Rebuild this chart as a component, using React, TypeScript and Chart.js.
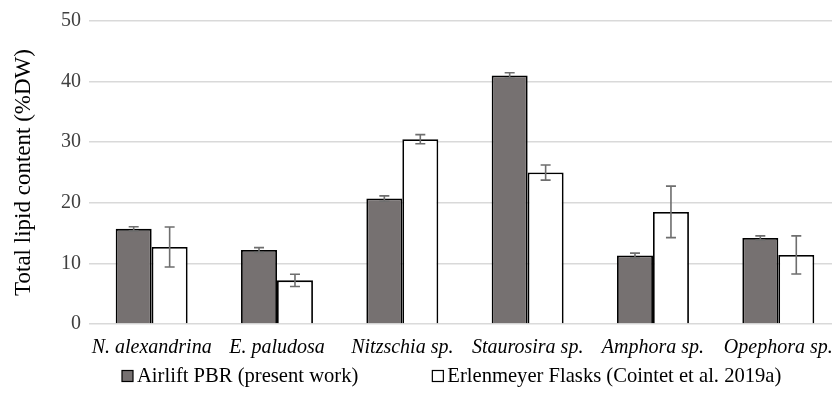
import React, { useEffect, useRef } from "react";
import { Chart, registerables } from "chart.js";

Chart.register(...registerables);

const categories = ["N. alexandrina", "E. paludosa", "Nitzschia sp.", "Staurosira sp.", "Amphora sp.", "Opephora sp."];
const airliftValues = [15.7, 12.2, 20.7, 41.0, 11.3, 14.2];
const airliftErrors = [0.35, 0.4, 0.45, 0.45, 0.4, 0.35];
const flaskValues = [12.7, 7.2, 30.5, 25.0, 18.5, 11.4];
const flaskErrors = [3.3, 1.0, 0.75, 1.25, 4.25, 3.15];
const seriesNames = ["Airlift PBR (present work)", "Erlenmeyer Flasks (Cointet et al. 2019a)"];
const yTicks = [0, 10, 20, 30, 40, 50];

const FONT = "'Liberation Serif', 'Times New Roman', serif";

const errorBarPlugin = {
  id: "errorBars",
  afterDatasetsDraw(chart: any) {
    const ctx = chart.ctx;
    const yScale = chart.scales.y;
    const errs = [airliftErrors, flaskErrors];
    chart.data.datasets.forEach((ds: any, di: number) => {
      const meta = chart.getDatasetMeta(di);
      meta.data.forEach((bar: any, i: number) => {
        const v = ds.data[i];
        const e = errs[di][i];
        const yt = yScale.getPixelForValue(v + e);
        const yb = yScale.getPixelForValue(v - e);
        const x = bar.x;
        ctx.save();
        ctx.strokeStyle = "#6e6e6e";
        ctx.lineWidth = 1.6;
        ctx.beginPath();
        ctx.moveTo(x, yt);
        ctx.lineTo(x, yb);
        ctx.moveTo(x - 5, yt);
        ctx.lineTo(x + 5, yt);
        ctx.moveTo(x - 5, yb);
        ctx.lineTo(x + 5, yb);
        ctx.stroke();
        ctx.restore();
      });
    });
  },
};

const customLegendPlugin = {
  id: "customLegend",
  afterDraw(chart: any) {
    const ctx = chart.ctx;
    const y = 376;
    const box = 11;
    let x = 122;
    ctx.save();
    ctx.font = `20.6px ${FONT}`;
    ctx.textBaseline = "middle";
    ctx.textAlign = "left";
    chart.data.datasets.forEach((ds: any) => {
      ctx.fillStyle = ds.backgroundColor;
      ctx.fillRect(x, y - box / 2, box, box);
      ctx.strokeStyle = "#000000";
      ctx.lineWidth = 1.2;
      ctx.strokeRect(x, y - box / 2, box, box);
      ctx.fillStyle = "#000000";
      const tx = x + box + 4;
      ctx.fillText(ds.label, tx, y + 1);
      x = tx + ctx.measureText(ds.label).width + 74;
    });
    ctx.restore();
  },
};

export default function App() {
  const ref = useRef<HTMLCanvasElement>(null);
  useEffect(() => {
    document.body.style.margin = "0";
    document.body.style.overflow = "hidden";
    const chart = new Chart(ref.current!, {
      type: "bar",
      data: {
        labels: categories,
        datasets: [
          {
            label: seriesNames[0],
            data: airliftValues,
            backgroundColor: "#767171",
            borderColor: "#000000",
            borderWidth: 1.8,
            categoryPercentage: 0.574,
            barPercentage: 1.0,
          },
          {
            label: seriesNames[1],
            data: flaskValues,
            backgroundColor: "#ffffff",
            borderColor: "#000000",
            borderWidth: 1.8,
            categoryPercentage: 0.574,
            barPercentage: 1.0,
          },
        ],
      },
      options: {
        animation: false,
        responsive: false,
        layout: { padding: { top: 21, right: 3, left: 0, bottom: 40 } },
        plugins: {
          legend: { display: false },
          tooltip: { enabled: false },
        },
        scales: {
          x: {
            grid: { display: false, drawTicks: false },
            border: { display: false },
            afterFit: (axis: any) => {
              axis.height = 38;
            },
            ticks: {
              color: "#000000",
              font: { family: FONT, size: 20, style: "italic" },
              maxRotation: 0,
              autoSkip: false,
              padding: 12,
            },
          },
          y: {
            min: 0,
            max: 50,
            afterBuildTicks: (axis: any) => {
              axis.ticks = yTicks.map((v) => ({ value: v }));
            },
            afterFit: (axis: any) => {
              axis.width = 89;
            },
            grid: { color: "#d9d9d9", lineWidth: 1.5, drawTicks: false },
            border: { display: false },
            ticks: {
              color: "#404040",
              font: { family: FONT, size: 20 },
              padding: 8,
            },
            title: {
              display: true,
              text: "Total lipid content (%DW)",
              color: "#000000",
              font: { family: FONT, size: 23 },
              padding: { top: 10, bottom: 0 },
            },
          },
        },
      },
      plugins: [errorBarPlugin, customLegendPlugin],
    });
    return () => chart.destroy();
  }, []);
  return <canvas ref={ref} width={845} height={402} style={{ display: "block" }} />;
}
